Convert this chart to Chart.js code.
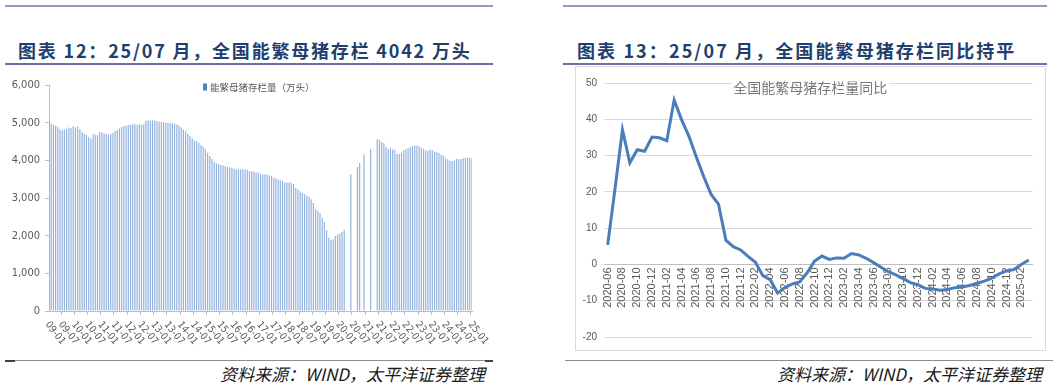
<!DOCTYPE html>
<html>
<head>
<meta charset="utf-8">
<script src="https://cdn.jsdelivr.net/npm/chart.js@4.4.1/dist/chart.umd.min.js"></script>
<style>
  body { margin: 0; width: 1059px; height: 387px; background: #fff; position: relative; overflow: hidden; font-family: "Noto Sans CJK SC", sans-serif; }
  .rule { position: absolute; }
  .title { position: absolute; top: 38px; font-size: 18px; font-weight: bold; color: #213f6e; letter-spacing: 1.8px; white-space: nowrap; line-height: 24px; }
  .src { position: absolute; top: 362px; font-size: 17px; font-style: italic; color: #1a1a1a; white-space: nowrap; line-height: 24px; }
  #leftWrap { position: absolute; left: 0; top: 66px; }
  #rightBox { position: absolute; left: 575px; top: 66px; width: 469px; height: 283px; border: 1px solid #d9d9d9; }
</style>
</head>
<body>
<div class="rule" style="left:5px;top:5px;width:488px;height:1.5px;background:#9597c2"></div>
<div class="rule" style="left:563px;top:5px;width:484px;height:1.5px;background:#9597c2"></div>
<div class="title" style="left:18px">图表 12：25/07 月，全国能繁母猪存栏 4042 万头</div>
<div class="title" style="left:577px;letter-spacing:2.1px">图表 13：25/07 月，全国能繁母猪存栏同比持平</div>
<div class="rule" style="left:5px;top:63px;width:488px;height:1.5px;background:#6d70a8"></div>
<div class="rule" style="left:563px;top:63px;width:484px;height:1.5px;background:#6d70a8"></div>

<div id="leftWrap"><canvas id="sowChart" width="495" height="294"></canvas></div>
<div id="rightBox"><canvas id="yoyChart" width="469" height="283"></canvas></div>

<div class="rule" style="left:5px;top:360px;width:488px;height:1px;background:#8c8c8c"></div>
<div class="rule" style="left:5px;top:359.5px;width:10px;height:2px;background:#404040"></div>
<div class="rule" style="left:485px;top:359.5px;width:8px;height:2px;background:#404040"></div>
<div class="rule" style="left:565px;top:360px;width:488px;height:1px;background:#8c8c8c"></div>
<div class="src" style="left:220px">资料来源：WIND，太平洋证券整理</div>
<div class="src" style="left:777px">资料来源：WIND，太平洋证券整理</div>

<script>
// 能繁母猪存栏（万头），2009-01 至 2025-01，按月
const sow2009 = [4990, 4980, 4940, 4920, 4890, 4820, 4800, 4810, 4830, 4875, 4860, 4910];
const sow2010 = [4870, 4895, 4830, 4750, 4700, 4680, 4610, 4575, 4700, 4680, 4665, 4745];
const sow2011 = [4745, 4710, 4690, 4680, 4700, 4725, 4780, 4815, 4850, 4885, 4910, 4920];
const sow2012 = [4940, 4945, 4955, 4955, 4940, 4955, 4945, 4955, 5050, 5060, 5060, 5060];
const sow2013 = [5060, 5045, 5025, 5020, 5010, 4990, 5000, 4990, 4980, 4975, 4945, 4920];
const sow2014 = [4870, 4820, 4770, 4700, 4645, 4585, 4520, 4505, 4470, 4400, 4360, 4290];
const sow2015 = [4200, 4115, 4035, 3955, 3920, 3900, 3875, 3860, 3850, 3830, 3815, 3790];
const sow2016 = [3780, 3760, 3760, 3760, 3760, 3760, 3745, 3715, 3710, 3700, 3680, 3675];
const sow2017 = [3645, 3630, 3630, 3620, 3605, 3585, 3540, 3525, 3490, 3470, 3450, 3410];
const sow2018 = [3410, 3410, 3410, 3370, 3265, 3230, 3170, 3135, 3105, 3060, 3035, 2965];
const sow2019 = [2865, 2715, 2655, 2600, 2485, 2360, 2150, 1950, 1893, 1903, 1991, 2036];
const sow2020 = [2062, 2097, 2150, null, null, 3628, null, null, 3823, 3938, null, 4159];
const sow2021 = [null, null, 4309, null, null, 4558, 4540, 4487, 4452, 4346, 4293, 4328];
const sow2022 = [4293, 4275, 4169, 4169, 4204, 4275, 4293, 4320, 4355, 4381, 4390, 4390];
const sow2023 = [4372, 4328, 4302, 4266, 4249, 4293, 4266, 4231, 4222, 4195, 4151, 4125];
const sow2024 = [4054, 4027, 3992, 3974, 3992, 4036, 4027, 4027, 4054, 4071, 4071, 4071];
const sow2025 = [4054];
const sowValues = [].concat(sow2009, sow2010, sow2011, sow2012, sow2013, sow2014, sow2015, sow2016,
  sow2017, sow2018, sow2019, sow2020, sow2021, sow2022, sow2023, sow2024, sow2025);

// 同比（%），2020-06 至 2025-03
const yoyValues = [
  5.4, 21.0, 37.1, 28.0, 31.6, 31.2, 35.1,
  34.9, 34.1, 45.3, 39.9, 35.3, 29.6, 24.2, 19.3, 16.6, 6.7, 4.9, 4.0,
  2.2, 0.6, -3.1, -4.2, -7.9, -6.4, -5.4, -4.8, -2.3, 0.9, 2.3, 1.4,
  1.8, 1.7, 3.0, 2.6, 1.7, 0.5, -0.8, -2.0, -2.9, -3.9, -5.0, -5.6,
  -6.6, -6.8, -7.1, -6.9, -6.4, -6.2, -5.8, -5.2, -4.6, -3.8, -2.6, -1.8,
  -1.4, 0.0, 1.2
];

function monthLabels(startYear, startMonth, count, shortYear) {
  const out = [];
  for (let k = 0; k < count; k++) {
    const m = startMonth - 1 + k;
    const y = startYear + Math.floor(m / 12);
    const mm = String(m % 12 + 1).padStart(2, '0');
    out.push((shortYear ? String(y).slice(2) : String(y)) + '-' + mm);
  }
  return out;
}
const sowMonths = monthLabels(2009, 1, sowValues.length, true);
const yoyMonths = monthLabels(2020, 6, yoyValues.length, false);

const narrowFont = '"Liberation Sans Narrow", "DejaVu Sans Condensed", "Liberation Sans", sans-serif';
const grey = '#595959';

// 斜向下的横轴标签 + 图内图例
const sowDecor = {
  id: 'sowDecor',
  afterDraw(chart) {
    const ctx = chart.ctx;
    const xs = chart.scales.x;
    ctx.save();
    ctx.font = '10px ' + narrowFont;
    ctx.fillStyle = grey;
    ctx.textAlign = 'left';
    ctx.textBaseline = 'middle';
    sowMonths.forEach((label, i) => {
      if (i % 6 !== 0) return;
      ctx.save();
      ctx.translate(xs.getPixelForValue(i) - 2, xs.bottom + 8);
      ctx.rotate(0.9);
      ctx.fillText(label, 0, 0);
      ctx.restore();
    });
    const area = chart.chartArea;
    ctx.fillStyle = '#4f81bd';
    ctx.fillRect(area.left + 154, area.top - 1.5, 4, 7);
    ctx.fillStyle = grey;
    ctx.font = '9.5px "Noto Sans CJK SC", sans-serif';
    ctx.fillText(chart.data.datasets[0].label, area.left + 161, area.top + 2);
    ctx.restore();
  }
};

new Chart(document.getElementById('sowChart'), {
  type: 'bar',
  data: {
    labels: sowMonths,
    datasets: [{
      label: '能繁母猪存栏量（万头）',
      data: sowValues,
      backgroundColor: '#94b4df',
      barPercentage: 0.55,
      categoryPercentage: 1
    }]
  },
  options: {
    responsive: false,
    animation: false,
    layout: { padding: { top: 19, right: 23, bottom: 45, left: 0 } },
    plugins: { legend: { display: false }, tooltip: { enabled: false } },
    scales: {
      x: {
        offset: false,
        grid: {
          display: true,
          drawOnChartArea: false,
          tickLength: 4,
          tickColor: c => (c.index % 6 === 0 ? '#bfbfbf' : 'rgba(0,0,0,0)')
        },
        border: { color: '#bfbfbf' },
        ticks: { display: false, autoSkip: false }
      },
      y: {
        min: 0,
        max: 6000,
        ticks: { stepSize: 1000, padding: 5, color: grey, font: { size: 11, family: narrowFont } },
        grid: { drawOnChartArea: false, tickLength: 4, tickColor: '#bfbfbf' },
        border: { color: '#bfbfbf' },
        afterFit: s => { s.width = 49; }
      }
    }
  },
  plugins: [sowDecor]
});

// 图内标题（白底压住网格线）
const yoyTitle = {
  id: 'yoyTitle',
  afterDraw(chart) {
    const ctx = chart.ctx;
    const area = chart.chartArea;
    const text = chart.data.datasets[0].label;
    ctx.save();
    ctx.font = '14px "Noto Sans CJK SC", sans-serif';
    const w = ctx.measureText(text).width;
    const cx = (area.left + area.right) / 2 - 8;
    ctx.fillStyle = '#fff';
    ctx.fillRect(cx - w / 2 - 2, area.top - 4, w + 4, 14);
    ctx.fillStyle = '#7a7a7a';
    ctx.textAlign = 'center';
    ctx.textBaseline = 'middle';
    ctx.fillText(text, cx, area.top + 5);
    ctx.restore();
  }
};

new Chart(document.getElementById('yoyChart'), {
  type: 'line',
  data: {
    labels: yoyMonths,
    datasets: [{
      label: '全国能繁母猪存栏量同比',
      data: yoyValues,
      borderColor: '#4a7ebb',
      borderWidth: 3,
      pointRadius: 0,
      tension: 0,
      fill: false
    }]
  },
  options: {
    responsive: false,
    animation: false,
    layout: { padding: { top: 16, right: 11, bottom: 7, left: 0 } },
    plugins: { legend: { display: false }, tooltip: { enabled: false } },
    scales: {
      x: {
        position: { y: 0 },
        offset: true,
        grid: { display: false, drawTicks: false },
        border: { color: '#bfbfbf' },
        ticks: {
          autoSkip: false,
          minRotation: 90,
          maxRotation: 90,
          padding: 3,
          color: grey,
          font: { size: 11, family: '"Liberation Sans", sans-serif' },
          callback: (v, i) => (i % 2 === 0 ? yoyMonths[i] : '')
        }
      },
      y: {
        min: -20,
        max: 50,
        ticks: { stepSize: 10, padding: 7, color: grey, font: { size: 10, family: '"Liberation Sans", sans-serif' } },
        grid: { color: '#d9d9d9', drawTicks: false },
        border: { display: false },
        afterFit: s => { s.width = 28; }
      }
    }
  },
  plugins: [yoyTitle]
});
</script>
</body>
</html>
